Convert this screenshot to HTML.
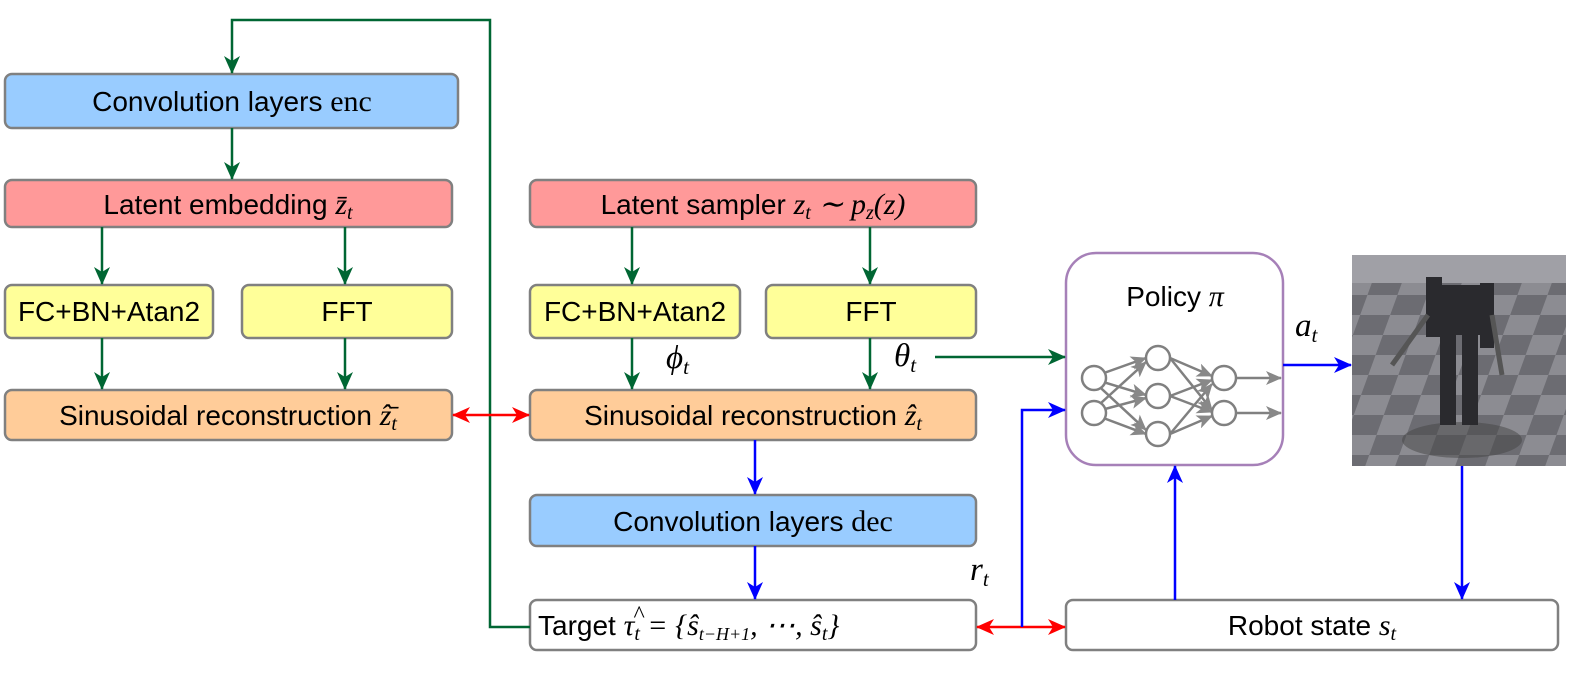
<!DOCTYPE html>
<html><head><style>body{margin:0;background:#fff}svg{display:block}text{font-family:"Liberation Sans",sans-serif;font-size:28px}.m{font-family:"Liberation Serif",serif;font-style:italic}</style></head><body>
<svg width="1594" height="695" viewBox="0 0 1594 695">
<defs>
<marker id="g" markerWidth="18" markerHeight="16" refX="17" refY="8" orient="auto" markerUnits="userSpaceOnUse" viewBox="0 0 18 16"><path d="M0,0 L18,8 L0,16 L5,8z" fill="#006633"/></marker>
<marker id="b" markerWidth="18" markerHeight="16" refX="17" refY="8" orient="auto" markerUnits="userSpaceOnUse" viewBox="0 0 18 16"><path d="M0,0 L18,8 L0,16 L5,8z" fill="#0000ff"/></marker>
<marker id="r" markerWidth="18" markerHeight="16" refX="17" refY="8" orient="auto-start-reverse" markerUnits="userSpaceOnUse" viewBox="0 0 18 16"><path d="M0,0 L18,8 L0,16 L5,8z" fill="#ff0000"/></marker>
<marker id="gr" markerWidth="16" markerHeight="14" refX="15" refY="7" orient="auto" markerUnits="userSpaceOnUse" viewBox="0 0 16 14"><path d="M0,0 L16,7 L0,14 L4,7z" fill="#888"/></marker>
<pattern id="ck" width="60" height="40" patternUnits="userSpaceOnUse" patternTransform="skewX(-20)"><rect width="60" height="40" fill="#8c8c92"/><rect width="30" height="20" fill="#6c6c72"/><rect x="30" y="20" width="30" height="20" fill="#6c6c72"/></pattern>
</defs>
<g stroke="#808080" stroke-width="2.5">
<rect x="5" y="74" width="453" height="54" rx="7" fill="#99ccff"/>
<rect x="5" y="180" width="447" height="47" rx="7" fill="#ff9999"/>
<rect x="5" y="285" width="208" height="53" rx="7" fill="#ffff99"/>
<rect x="242" y="285" width="210" height="53" rx="7" fill="#ffff99"/>
<rect x="5" y="390" width="447" height="50" rx="7" fill="#ffcc99"/>
<rect x="530" y="180" width="446" height="47" rx="7" fill="#ff9999"/>
<rect x="530" y="285" width="210" height="53" rx="7" fill="#ffff99"/>
<rect x="766" y="285" width="210" height="53" rx="7" fill="#ffff99"/>
<rect x="530" y="390" width="446" height="50" rx="7" fill="#ffcc99"/>
<rect x="530" y="495" width="446" height="51" rx="7" fill="#99ccff"/>
<rect x="530" y="600" width="446" height="50" rx="7" fill="#fff"/>
<rect x="1066" y="600" width="492" height="50" rx="7" fill="#fff"/>
</g>
<rect x="1066" y="253" width="217" height="212" rx="30" fill="#fff" stroke="#a680b8" stroke-width="2.5"/>
<svg x="1352" y="255" width="214" height="211">
<rect width="214" height="211" fill="url(#ck)"/>
<rect width="214" height="28" fill="#a0a0a6"/>
<ellipse cx="110" cy="185" rx="60" ry="18" fill="#444" opacity="0.5"/>
<g fill="#2a2a2e"><rect x="88" y="30" width="40" height="50"/><rect x="74" y="22" width="16" height="60"/><rect x="128" y="28" width="14" height="65"/><rect x="88" y="80" width="16" height="90"/><rect x="110" y="80" width="16" height="90"/></g>
<path d="M76,60 L40,110 M140,60 L150,120" stroke="#555" stroke-width="5"/>
</svg>
<g stroke="#808080" stroke-width="2.5" fill="#fff">
<line x1="1090" y1="378" x2="1146" y2="358" marker-end="url(#gr)"/><line x1="1090" y1="378" x2="1146" y2="395" marker-end="url(#gr)"/><line x1="1090" y1="378" x2="1146" y2="430" marker-end="url(#gr)"/>
<line x1="1090" y1="413" x2="1146" y2="362" marker-end="url(#gr)"/><line x1="1090" y1="413" x2="1146" y2="398" marker-end="url(#gr)"/><line x1="1090" y1="413" x2="1146" y2="434" marker-end="url(#gr)"/>
<line x1="1170" y1="358" x2="1212" y2="376" marker-end="url(#gr)"/><line x1="1170" y1="358" x2="1212" y2="410" marker-end="url(#gr)"/><line x1="1170" y1="396" x2="1212" y2="380" marker-end="url(#gr)"/><line x1="1170" y1="396" x2="1212" y2="412" marker-end="url(#gr)"/><line x1="1170" y1="434" x2="1212" y2="384" marker-end="url(#gr)"/><line x1="1170" y1="434" x2="1212" y2="416" marker-end="url(#gr)"/>
<line x1="1236" y1="378" x2="1281" y2="378" marker-end="url(#gr)"/><line x1="1236" y1="413" x2="1281" y2="413" marker-end="url(#gr)"/>
<circle cx="1094" cy="378" r="12"/><circle cx="1094" cy="413" r="12"/>
<circle cx="1158" cy="358" r="12"/><circle cx="1158" cy="396" r="12"/><circle cx="1158" cy="434" r="12"/>
<circle cx="1224" cy="378" r="12"/><circle cx="1224" cy="413" r="12"/>
</g>
<g stroke="#006633" stroke-width="2.5" fill="none" marker-end="url(#g)">
<polyline points="530,627 490,627 490,20 232,20 232,73"/>
<line x1="232" y1="128" x2="232" y2="179"/>
<line x1="102" y1="227" x2="102" y2="284"/><line x1="345" y1="227" x2="345" y2="284"/>
<line x1="102" y1="338" x2="102" y2="389"/><line x1="345" y1="338" x2="345" y2="389"/>
<line x1="632" y1="227" x2="632" y2="284"/><line x1="870" y1="227" x2="870" y2="284"/>
<line x1="632" y1="338" x2="632" y2="389"/><line x1="870" y1="338" x2="870" y2="389"/>
<line x1="935" y1="357" x2="1065" y2="357"/>
</g>
<g stroke="#ff0000" stroke-width="2.5" marker-start="url(#r)" marker-end="url(#r)">
<line x1="453" y1="415" x2="529" y2="415"/><line x1="977" y1="627" x2="1065" y2="627"/>
</g>
<g stroke="#0000ff" stroke-width="2.5" fill="none" marker-end="url(#b)">
<line x1="755" y1="440" x2="755" y2="494"/><line x1="755" y1="546" x2="755" y2="599"/>
<polyline points="1022,627 1022,410 1065,410"/>
<line x1="1175" y1="600" x2="1175" y2="466"/>
<line x1="1283" y1="365" x2="1351" y2="365"/>
<line x1="1462" y1="466" x2="1462" y2="599"/>
</g>
<g text-anchor="middle">
<text x="232" y="111">Convolution layers <tspan font-family="Liberation Serif" font-size="30">enc</tspan></text>
<text x="228" y="214">Latent embedding <tspan class="m" font-size="30">z̄<tspan font-size="20" dy="5">t</tspan></tspan></text>
<text x="109" y="321">FC+BN+Atan2</text>
<text x="347" y="321">FFT</text>
<text x="228" y="425">Sinusoidal reconstruction <tspan class="m" font-size="30">ẑ̄<tspan font-size="20" dy="5">t</tspan></tspan></text>
<text x="753" y="214">Latent sampler <tspan class="m" font-size="30">z<tspan font-size="20" dy="5">t</tspan><tspan dy="-5"> ∼ p</tspan><tspan font-size="20" dy="5">z</tspan><tspan dy="-5">(z)</tspan></tspan></text>
<text x="635" y="321">FC+BN+Atan2</text>
<text x="871" y="321">FFT</text>
<text x="753" y="425">Sinusoidal reconstruction <tspan class="m" font-size="30">ẑ<tspan font-size="20" dy="5">t</tspan></tspan></text>
<text x="753" y="531">Convolution layers <tspan font-family="Liberation Serif" font-size="30">dec</tspan></text>
<text x="1312" y="635">Robot state <tspan class="m" font-size="30">s<tspan font-size="20" dy="5">t</tspan></tspan></text>
<text x="1175" y="306">Policy <tspan class="m" font-size="30">π</tspan></text>
</g>
<text x="538" y="635">Target <tspan class="m" font-size="30">τ<tspan font-size="20" dy="5">t</tspan><tspan dy="-5"> = {ŝ</tspan><tspan font-size="18" dy="5">t−H+1</tspan><tspan dy="-5">, ⋯, ŝ</tspan><tspan font-size="20" dy="5">t</tspan><tspan dy="-5">}</tspan></tspan></text>
<text x="633" y="622" class="m" style="font-size:24px">^</text>
<text x="666" y="368" class="m" style="font-size:33px">ϕ<tspan font-size="21" dy="6">t</tspan></text>
<text x="894" y="366" class="m" style="font-size:33px">θ<tspan font-size="21" dy="6">t</tspan></text>
<text x="970" y="580" class="m" style="font-size:33px">r<tspan font-size="21" dy="6">t</tspan></text>
<text x="1295" y="336" class="m" style="font-size:33px">a<tspan font-size="21" dy="6">t</tspan></text>
</svg>
</body></html>
